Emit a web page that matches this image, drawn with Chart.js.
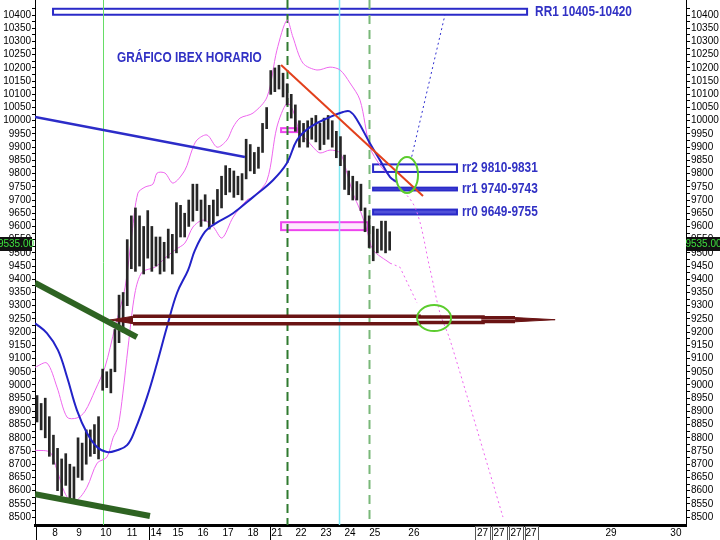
<!DOCTYPE html>
<html>
<head>
<meta charset="utf-8">
<script src="https://cdn.jsdelivr.net/npm/chart.js@4.4.1/dist/chart.umd.min.js"></script>
<style>
html, body { margin: 0; padding: 0; background: #fff; }
</style>
</head>
<body>
<canvas id="ibex" width="720" height="540"></canvas>
<script>
// hourly bars, 6 per session, x measured in sessions (day 8 = 0)
var barStart = -0.73, barsPerDay = 6;
var barLow = [8860,8830,8800,8730,8700,8600,8580,8620,8570,8560,
  8650,8640,8700,8730,8740,8720,8980,8990,8970,9050,
  9160,9200,9300,9440,9430,9450,9420,9480,9430,9450,
  9420,9430,9480,9420,9500,9560,9560,9600,9620,9660,
  9600,9620,9590,9610,9640,9670,9720,9730,9710,9720,
  9700,9780,9810,9800,9820,9880,9970,10100,10110,10120,
  10090,10060,10010,9960,9900,9920,9900,9930,9920,9890,
  9910,9930,9900,9860,9830,9740,9720,9700,9700,9660,
  9580,9520,9470,9500,9510,9500,9510];
var barHigh = [8960,8930,8950,8880,8810,8760,8720,8740,8700,8690,
  8800,8780,8830,8830,8850,8880,9060,9050,9060,9210,
  9340,9350,9550,9640,9670,9640,9600,9660,9600,9560,
  9560,9540,9590,9570,9690,9680,9650,9700,9760,9760,
  9700,9720,9680,9700,9740,9790,9830,9820,9810,9790,
  9800,9930,9910,9880,9900,9990,10050,10190,10200,10210,
  10180,10140,10100,10060,10000,9990,10000,10010,10020,9990,
  10010,10020,10000,9960,9940,9870,9810,9790,9770,9760,
  9670,9640,9600,9590,9620,9620,9580];
var lastPrice = 9535;

var upperBandX = [-0.81,-0.33,0.08,0.49,0.89,1.22,1.63,2.03,2.44,2.85,3.13,3.37,3.66,3.98,4.15,4.47,4.80,5.28,5.57,5.77,6.18,6.59,6.99,7.24,7.52,8.05,8.62,9.02,9.43,9.67,10.08,10.65,11.18,11.59,11.99,12.40,12.80,13.21,13.62];
var upperBandY = [9067,9083,8992,8878,8875,8900,8980,9067,9219,9370,9575,9726,9749,9760,9802,9802,9764,9813,9889,9927,9946,9900,9927,9976,10010,10029,10090,10267,10381,10317,10218,10192,10203,10192,10143,10078,9900,9832,9787];
var lowerBandX = [-0.81,-0.20,0.08,0.49,0.89,1.30,1.71,2.11,2.36,2.56,2.76,2.97,3.25,3.54,4.07,4.47,4.88,5.28,5.61,6.02,6.42,6.79,7.24,7.80,8.05,8.62,9.02,9.43,9.67,9.96,10.24,10.49,10.77,11.18,11.59,11.87,12.11,12.40,12.68,12.93,13.62];
var lowerBandY = [8753,8745,8678,8576,8565,8613,8704,8727,8800,8840,8969,9143,9348,9427,9446,9480,9511,9537,9598,9624,9600,9556,9635,9700,9711,9775,9976,10067,10040,9953,9927,9900,9878,9889,9878,9802,9726,9662,9586,9511,9461];
var avgX = [-0.81,-0.33,0.12,0.49,0.89,1.30,1.71,2.11,2.52,2.93,3.25,3.74,4.15,4.55,4.96,5.41,5.69,6.10,6.50,7.24,8.05,8.86,9.43,9.84,10.37,11.18,11.71,11.99,12.28,12.80,13.21,13.62,13.90];
var avgY = [9234,9196,9132,9030,8905,8818,8765,8746,8753,8772,8829,8954,9083,9219,9348,9435,9510,9580,9610,9650,9711,9775,9840,9927,9976,10014,10033,10035,10003,9915,9851,9787,9768];
var upperProjX = [13.62,14.63,15.24,15.65,16.06,18.21];
var upperProjY = [9787,9673,9440,9272,9170,8500];
var lowerProjX = [13.62,14.02,14.72];
var lowerProjY = [9461,9446,9310];
var blueProjX = [14.50,15.85];
var blueProjY = [9864,10400];

var blueTrendX = [-0.81,7.72], blueTrendY = [10014,9863];
var greenTopX = [-0.81,3.33], greenTopY = [9386,9181];
var greenBotX = [-0.81,3.86], greenBotY = [8587,8504];
var redTrendX = [9.19,14.96], redTrendY = [10211,9715];

var tubeTopX = [3.17,14.8,14.8,17.4,17.4,18.7];
var tubeTopY = [9260,9260,9257,9257,9254,9254];
var tubeBotX = [3.17,14.8,14.8,17.4,17.4,18.7];
var tubeBotY = [9232,9232,9236,9236,9240,9240];
var headTopX = [2.24,3.17], headTopY = [9246,9260];
var headBotX = [2.24,3.17], headBotY = [9246,9232];
var tipTopX = [18.7,20.33], tipTopY = [9255,9247];
var tipBotX = [18.7,20.33], tipBotY = [9239,9247];

var zoneNames = ['RR1 10405-10420','rr2 9810-9831','rr1 9740-9743','rr0 9649-9755'];
var zoneLow = [10405,9810,9740,9649];
var zoneHigh = [10420,9831,9743,9660];
var zoneStart = [-0.08,12.93,12.93,12.93];
var zoneEnd = [19.19,16.34,16.34,16.34];
var pinkBoxLow = [9957,9586], pinkBoxHigh = [9972,9616];
var pinkBoxStart = [9.19,9.19], pinkBoxEnd = [9.84,12.72];
var markerX = [1.95,9.43,11.54,12.76];
var circleX = [14.31,15.41], circleY = [9795,9253];
var titleText = 'GRÁFICO IBEX HORARIO', titleX = 2.52, titleY = 10239;

var dayLabels = ['8','9','10','11','14','15','16','17','18','21','22','23','24','25','26','27','27','27','27','29','30'];
var dayPos = [0,0.98,2.07,3.13,4.11,5.0,6.02,7.03,8.05,9.02,10.0,11.02,11.99,13.0,14.59,17.38,18.05,18.74,19.35,22.6,25.24];
var weekSep = [-0.77,3.82,8.74];
var boxes27 = [[17.07,17.68],[17.76,18.37],[18.46,19.02],[19.11,19.63]];

function pairs(xs, ys) {
  return xs.map(function (v, i) { return { x: v, y: ys[i] }; });
}
function lineSet(xs, ys, color, width, extra) {
  var d = { type: 'line', data: pairs(xs, ys), borderColor: color, borderWidth: width,
    pointRadius: 0, fill: false, tension: 0 };
  for (var k in extra) d[k] = extra[k];
  return d;
}

var blueTxt = '#3131c4';
var brown = '#6a1414';

function condensed(ctx, str, px, py, size, sx) {
  ctx.save();
  ctx.translate(px, py);
  ctx.scale(sx, 1);
  ctx.font = 'bold ' + size + 'px "Liberation Sans", Arial, sans-serif';
  ctx.textBaseline = 'middle';
  ctx.textAlign = 'left';
  ctx.fillText(str, 0, 0);
  ctx.restore();
}

var overlay = {
  id: 'overlay',
  beforeDatasetsDraw: function (chart) {
    var ctx = chart.ctx, x = chart.scales.x, y = chart.scales.y, a = chart.chartArea;
    ctx.save();
    // zones
    for (var i = 0; i < zoneNames.length; i++) {
      var x0 = x.getPixelForValue(zoneStart[i]), x1 = x.getPixelForValue(zoneEnd[i]);
      var y0 = y.getPixelForValue(zoneHigh[i]), y1 = y.getPixelForValue(zoneLow[i]);
      ctx.fillStyle = (i >= 2) ? '#5050d8' : '#fff';
      ctx.fillRect(x0, y0 - 1, x1 - x0, y1 - y0 + 2);
      ctx.strokeStyle = '#2a2ac8';
      ctx.lineWidth = 2;
      ctx.strokeRect(x0, y0 - 1, x1 - x0, y1 - y0 + 2);
    }
    for (var j = 0; j < pinkBoxLow.length; j++) {
      var bx0 = x.getPixelForValue(pinkBoxStart[j]), bx1 = x.getPixelForValue(pinkBoxEnd[j]);
      var by0 = y.getPixelForValue(pinkBoxHigh[j]), by1 = y.getPixelForValue(pinkBoxLow[j]);
      ctx.fillStyle = '#fde8fd';
      ctx.fillRect(bx0, by0, bx1 - bx0, by1 - by0);
      ctx.strokeStyle = '#ee44ee';
      ctx.lineWidth = 2;
      ctx.strokeRect(bx0, by0, bx1 - bx0, by1 - by0);
    }
    // vertical session markers
    var mStyle = [
      { c: '#66dd66', w: 1, d: [] },
      { c: '#2f7a2f', w: 2, d: [9, 5] },
      { c: '#7fe8f2', w: 1.5, d: [] },
      { c: '#79b879', w: 2, d: [9, 6] }
    ];
    markerX.forEach(function (v, k) {
      var p = Math.round(x.getPixelForValue(v)) + 0.5;
      ctx.beginPath();
      ctx.strokeStyle = mStyle[k].c;
      ctx.lineWidth = mStyle[k].w;
      ctx.setLineDash(mStyle[k].d);
      ctx.moveTo(p, a.top);
      ctx.lineTo(p, a.bottom);
      ctx.stroke();
    });
    ctx.restore();
  },
  afterDatasetsDraw: function (chart) {
    var ctx = chart.ctx, x = chart.scales.x, y = chart.scales.y;
    ctx.save();
    // green circles
    var rx = [11, 17], ry = [18, 13];
    ctx.strokeStyle = '#5ccc2e';
    ctx.lineWidth = 2;
    circleX.forEach(function (v, k) {
      ctx.beginPath();
      ctx.ellipse(x.getPixelForValue(v), y.getPixelForValue(circleY[k]), rx[k], ry[k], 0, 0, Math.PI * 2);
      ctx.stroke();
    });
    // texts
    ctx.fillStyle = blueTxt;
    condensed(ctx, titleText, x.getPixelForValue(titleX), y.getPixelForValue(titleY), 15, 0.79);
    for (var i = 0; i < zoneNames.length; i++) {
      var off = i === 0 ? 8 : 5;
      var mid = y.getPixelForValue((zoneLow[i] + zoneHigh[i]) / 2);
      condensed(ctx, zoneNames[i], x.getPixelForValue(zoneEnd[i]) + off, mid, 15, 0.79);
    }
    ctx.restore();
  },
  afterDraw: function (chart) {
    var ctx = chart.ctx, x = chart.scales.x, y = chart.scales.y, a = chart.chartArea;
    ctx.save();
    // last price tags on both axes
    var yy = Math.round(y.getPixelForValue(lastPrice));
    var txt = lastPrice.toFixed(2);
    ctx.font = '10px "Liberation Sans", Arial, sans-serif';
    ctx.textAlign = 'center';
    ctx.textBaseline = 'middle';
    ctx.fillStyle = '#111';
    ctx.fillRect(0, yy - 7, 32, 14);
    ctx.fillRect(a.right + 1, yy - 7, 720 - a.right - 1, 14);
    ctx.fillStyle = '#3ee03e';
    ctx.fillText(txt, 16, yy);
    ctx.fillText(txt, (a.right + 721) / 2, yy);
    // session separators under the time axis
    ctx.strokeStyle = '#000';
    ctx.lineWidth = 1;
    weekSep.forEach(function (v) {
      var p = Math.round(x.getPixelForValue(v)) + 0.5;
      ctx.beginPath();
      ctx.moveTo(p, a.bottom);
      ctx.lineTo(p, 540);
      ctx.stroke();
    });
    ctx.strokeStyle = '#555';
    boxes27.forEach(function (b) {
      var p0 = Math.round(x.getPixelForValue(b[0])) + 0.5, p1 = Math.round(x.getPixelForValue(b[1])) + 0.5;
      ctx.strokeRect(p0, a.bottom + 1.5, p1 - p0, 540 - a.bottom);
    });
    ctx.restore();
  }
};

var bars = barLow.map(function (lo, i) {
  return { x: barStart + i / barsPerDay, y: [lo, barHigh[i]] };
});

Chart.defaults.font.family = '"Liberation Sans", Arial, sans-serif';
Chart.defaults.font.size = 10;
Chart.defaults.color = '#000';

function yTicks(scale) {
  scale.ticks = scale.ticks.filter(function (t) { return t.value % 25 === 0; });
}
function yLabel(v) {
  return (v % 50 === 0 && v <= 10400) ? String(v) : '';
}

new Chart(document.getElementById('ibex'), {
  type: 'bar',
  data: {
    datasets: [
      lineSet(redTrendX, redTrendY, '#e2401c', 2),
      lineSet(greenTopX, greenTopY, '#2e6322', 6),
      lineSet(greenBotX, greenBotY, '#2e6322', 6),
      lineSet(blueTrendX, blueTrendY, '#2c2cc8', 2.5),
      lineSet(blueProjX, blueProjY, '#3030d0', 1, { borderDash: [2, 3] }),
      lineSet(headTopX, headTopY, brown, 1, { fill: '+1', backgroundColor: brown }),
      lineSet(headBotX, headBotY, brown, 1),
      lineSet(tipTopX, tipTopY, brown, 1, { fill: '+1', backgroundColor: brown }),
      lineSet(tipBotX, tipBotY, brown, 1),
      lineSet(tubeTopX, tubeTopY, brown, 3.5),
      lineSet(tubeBotX, tubeBotY, brown, 3.5),
      lineSet(avgX, avgY, '#2222c8', 2, { tension: 0.4 }),
      {
        type: 'bar', data: bars, backgroundColor: '#262626', borderColor: '#262626',
        borderWidth: 0, barThickness: 2, borderSkipped: false
      },
      lineSet(upperBandX, upperBandY, '#ee66ee', 1, { tension: 0.3 }),
      lineSet(lowerBandX, lowerBandY, '#ee66ee', 1, { tension: 0.3 }),
      lineSet(upperProjX, upperProjY, '#ee66ee', 1, { borderDash: [2, 3], tension: 0.3 }),
      lineSet(lowerProjX, lowerProjY, '#ee66ee', 1, { borderDash: [2, 3] })
    ]
  },
  options: {
    responsive: false,
    animation: false,
    events: [],
    layout: { padding: 0 },
    plugins: { legend: { display: false }, tooltip: { enabled: false } },
    scales: {
      x: {
        type: 'linear', min: -0.813, max: 25.65, offset: false,
        grid: { drawOnChartArea: false, drawTicks: false, offset: false },
        border: { display: true, color: '#000', width: 3 },
        ticks: {
          autoSkip: false, maxRotation: 0, padding: 2,
          callback: function (v, i) { return dayLabels[i]; }
        },
        afterBuildTicks: function (scale) {
          scale.ticks = dayPos.map(function (v) { return { value: v }; });
        },
        afterFit: function (scale) {
          scale.height = 15;
          scale.paddingLeft = 0; scale.paddingRight = 0;
        }
      },
      y: {
        type: 'linear', position: 'left', min: 8470, max: 10457,
        grid: { drawOnChartArea: false, tickLength: 3, color: '#000' },
        border: { display: true, color: '#000', width: 1 },
        ticks: { stepSize: 25, autoSkip: false, padding: 1, callback: yLabel },
        afterBuildTicks: yTicks,
        afterFit: function (scale) {
          scale.width = 35;
          scale.paddingTop = 0; scale.paddingBottom = 0;
        }
      },
      y2: {
        type: 'linear', position: 'right', min: 8470, max: 10457,
        grid: { drawOnChartArea: false, tickLength: 4, color: '#000' },
        border: { display: true, color: '#000', width: 1 },
        ticks: { stepSize: 25, autoSkip: false, padding: 1, callback: yLabel },
        afterBuildTicks: yTicks,
        afterFit: function (scale) {
          scale.width = 34;
          scale.paddingTop = 0; scale.paddingBottom = 0;
        }
      }
    }
  },
  plugins: [overlay]
});
</script>
</body>
</html>
